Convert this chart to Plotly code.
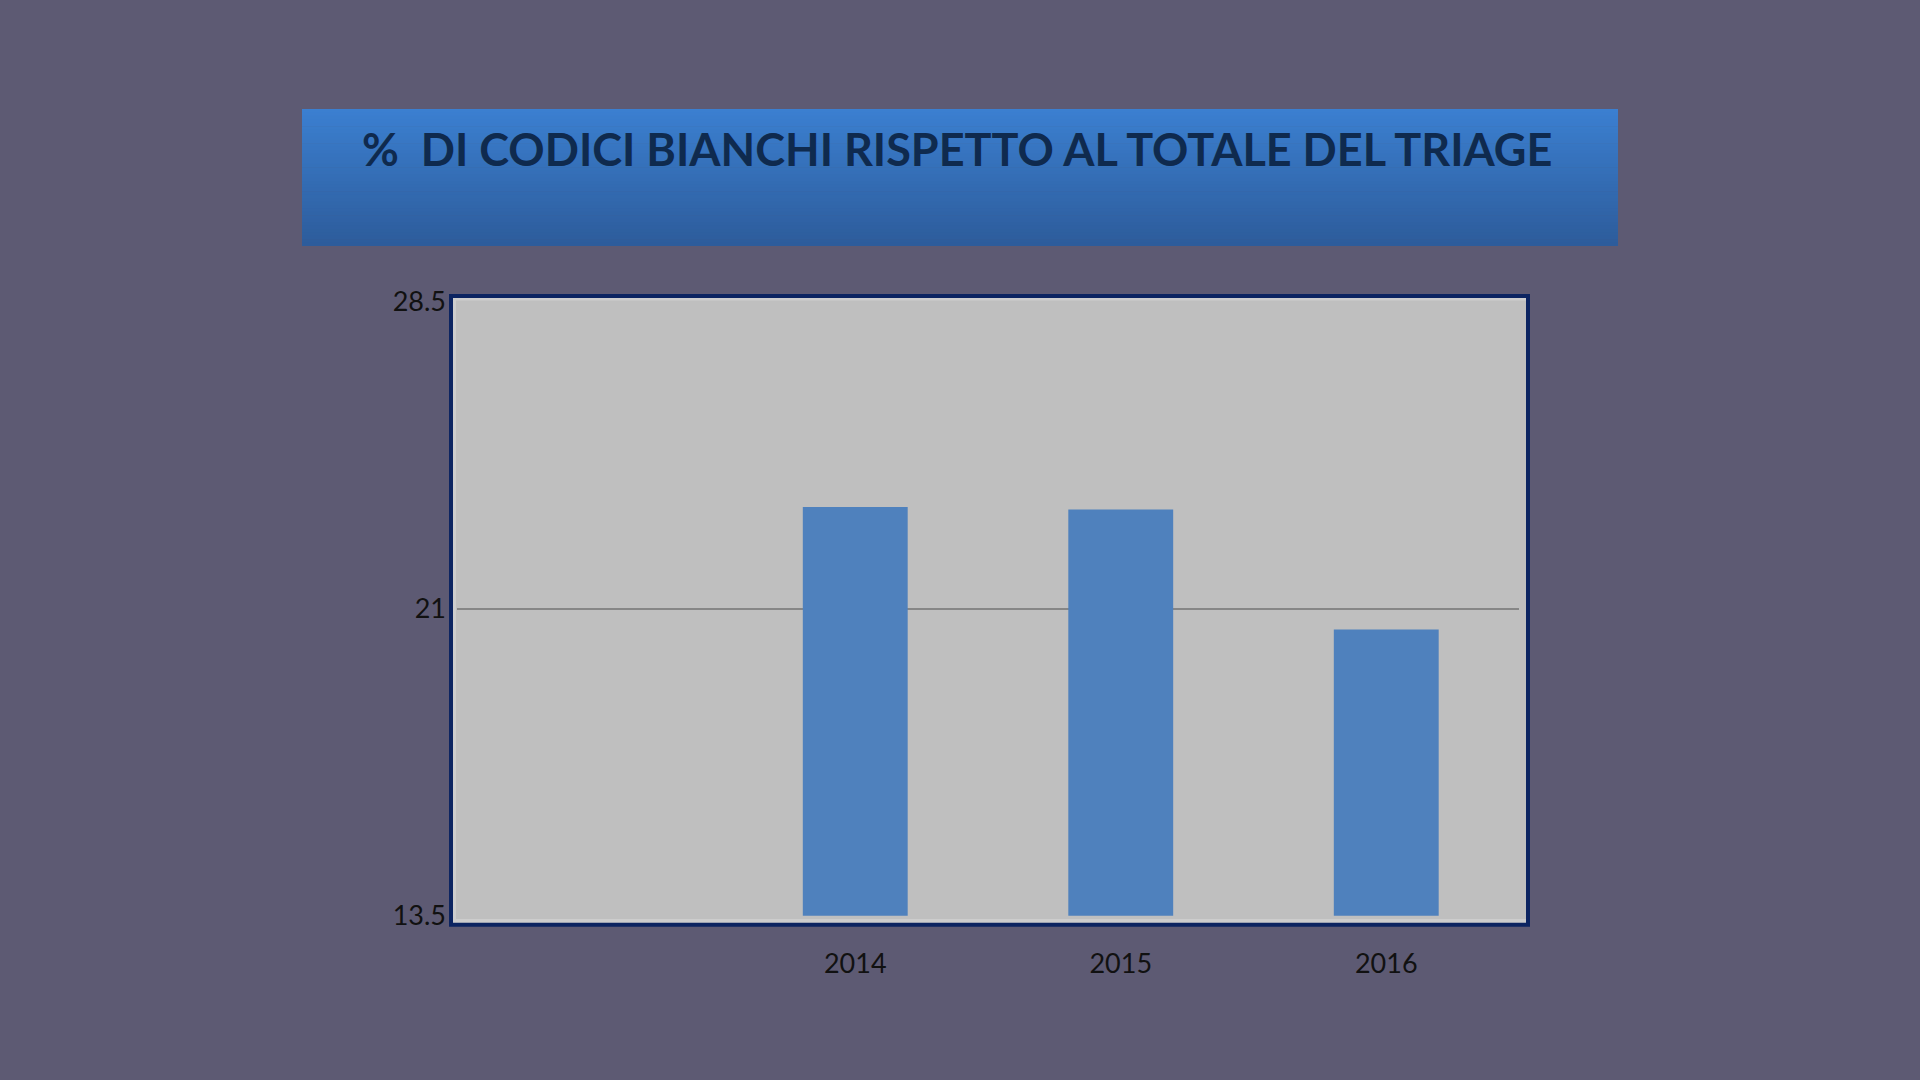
import plotly.graph_objects as go

# data
categories = [" ", "2014", "2015", "2016"]
values = [None, 23.48, 23.42, 20.49]
y_ticks = [13.5, 21, 28.5]
y_tick_labels = ["13.5", "21", "28.5"]
title_text = "%  DI CODICI BIANCHI RISPETTO AL TOTALE DEL TRIAGE"

W, H = 1920, 1080
BG = "#5d5a73"
FONT = "Lato"


def px_x(v):
    return v / W


def px_y(v):
    # pixel from top -> paper fraction from bottom
    return 1 - v / H


fig = go.Figure()

fig.add_trace(go.Bar(
    x=categories,
    y=values,
    marker=dict(color="#4f81bd", line=dict(width=0)),
    hoverinfo="x+y",
))

shapes = []

# title banner, vertical gradient done with thin strips
top_col = (59, 127, 208)
bot_col = (45, 92, 155)
b_top, b_bot, b_left, b_right = 109, 246, 302, 1618
n = 40
for i in range(n):
    t = i / (n - 1)
    c = tuple(round(top_col[k] + (bot_col[k] - top_col[k]) * t) for k in range(3))
    y0 = b_top + (b_bot - b_top) * i / n
    y1 = b_top + (b_bot - b_top) * (i + 1) / n + 0.6
    shapes.append(dict(
        type="rect", xref="paper", yref="paper", layer="below",
        x0=px_x(b_left), x1=px_x(b_right), y0=px_y(min(y1, b_bot)), y1=px_y(y0),
        fillcolor="rgb(%d,%d,%d)" % c, line=dict(width=0),
    ))

# chart frame: light inner strip + grey fill + navy border
shapes.append(dict(
    type="rect", xref="paper", yref="paper", layer="below",
    x0=px_x(451), x1=px_x(1528), y0=px_y(924.7), y1=px_y(296),
    fillcolor="#cdcdcd", line=dict(width=0),
))
shapes.append(dict(
    type="rect", xref="paper", yref="paper", layer="below",
    x0=px_x(456), x1=px_x(1526), y0=px_y(919), y1=px_y(300.5),
    fillcolor="#bfbfbf", line=dict(width=0),
))
shapes.append(dict(
    type="rect", xref="paper", yref="paper", layer="above",
    x0=px_x(451), x1=px_x(1528), y0=px_y(924.7), y1=px_y(296),
    fillcolor="rgba(0,0,0,0)", line=dict(color="#0c2461", width=4),
))

fig.update_layout(
    width=W,
    height=H,
    autosize=False,
    margin=dict(l=0, r=0, t=0, b=0, pad=0, autoexpand=False),
    paper_bgcolor=BG,
    plot_bgcolor="rgba(0,0,0,0)",
    showlegend=False,
    bargap=0.605,
    shapes=shapes,
    font=dict(family=FONT, color="#111111"),
    annotations=[dict(
        text="<b>" + title_text + "</b>",
        xref="paper", yref="paper",
        x=px_x(957), y=px_y(149),
        xanchor="center", yanchor="middle",
        showarrow=False,
        font=dict(family=FONT, size=45, color="#0f2a4e"),
    )],
    xaxis=dict(
        domain=[px_x(457), px_x(1519)],
        type="category",
        automargin=False,
        showgrid=False,
        showline=False,
        zeroline=False,
        ticks="",
        ticklabelstandoff=29,
        tickfont=dict(family=FONT, size=27, color="#111111"),
    ),
    yaxis=dict(
        domain=[px_y(915.7), px_y(301.3)],
        range=[13.5, 28.5],
        automargin=False,
        tickvals=y_ticks,
        ticktext=y_tick_labels,
        showgrid=True,
        gridcolor="#868686",
        gridwidth=2,
        zeroline=False,
        showline=False,
        ticks="",
        ticklabelstandoff=10,
        tickfont=dict(family=FONT, size=27, color="#111111"),
    ),
)

# the figure is exactly window-sized, so drop the page margin
fig.write_html(
    "out.html",
    config=dict(displayModeBar=False),
    post_script="document.body.style.margin='0';document.body.style.overflow='hidden';",
)
